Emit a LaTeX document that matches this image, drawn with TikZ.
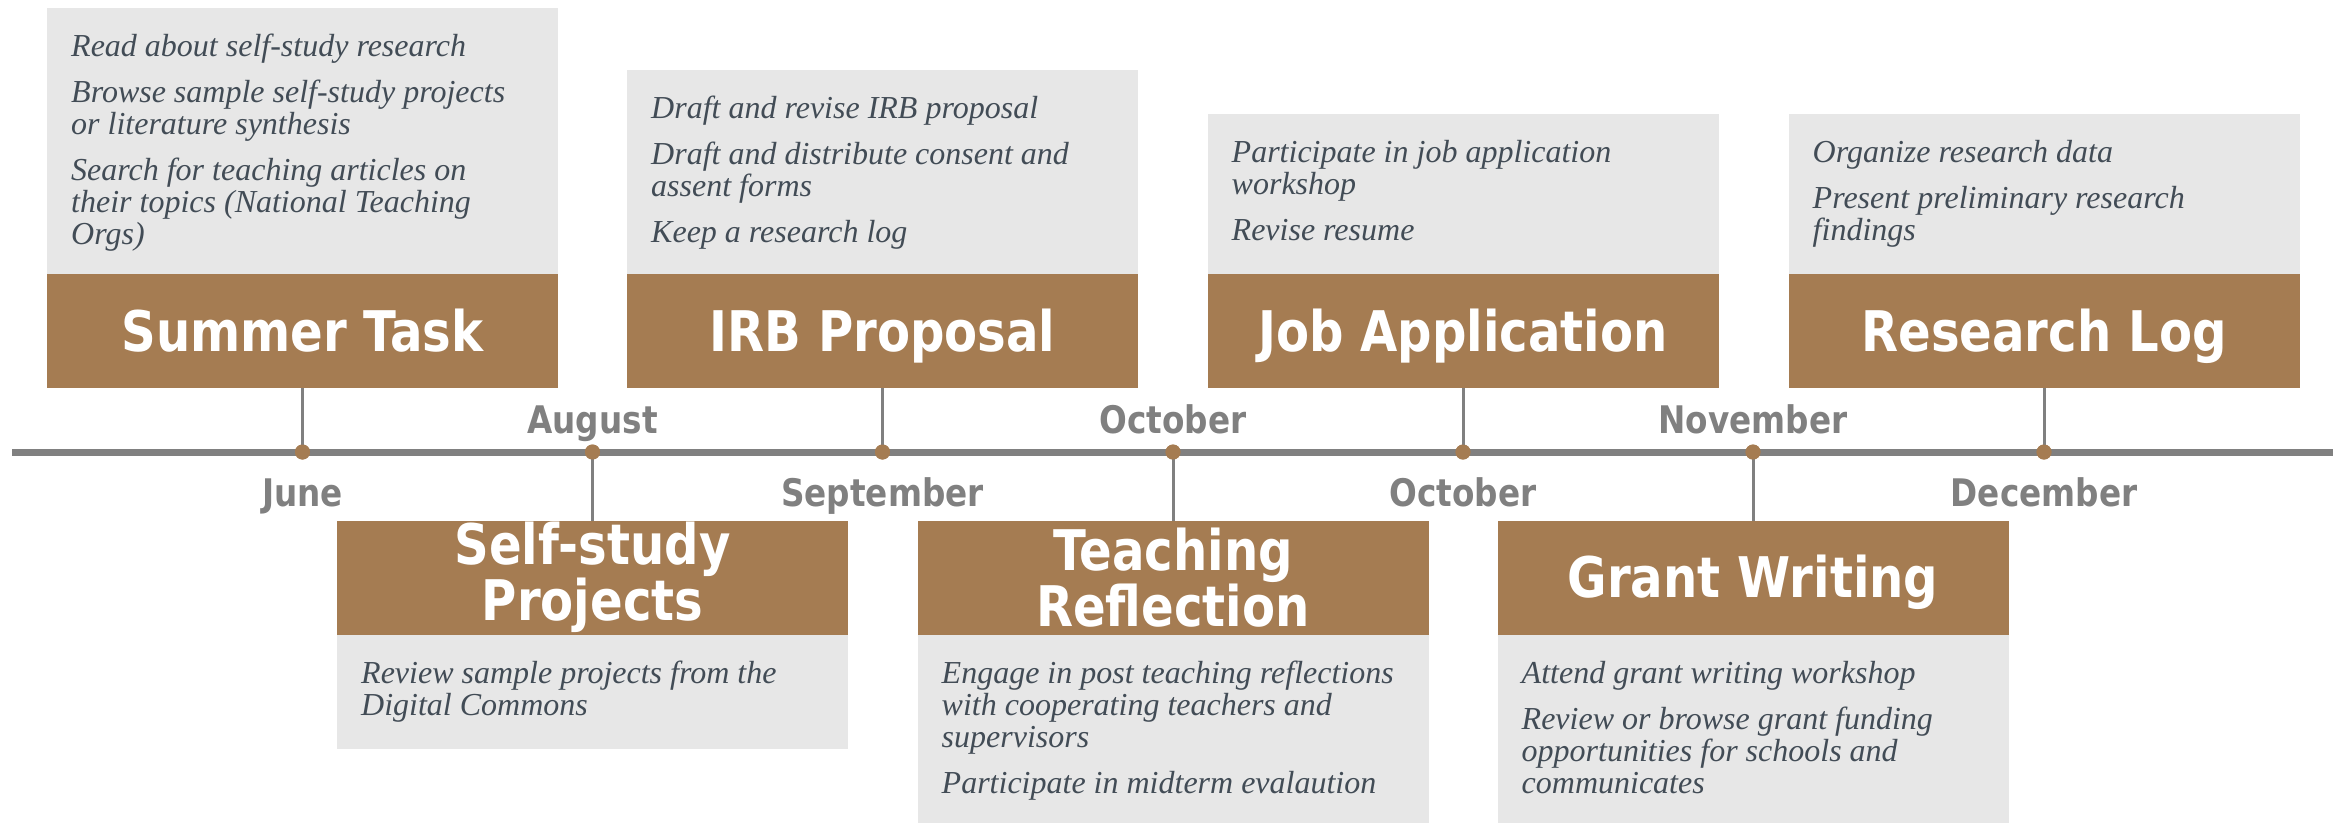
\documentclass[tikz,border=0pt]{standalone}
\usepackage{fontspec}
\newfontfamily\titlefont[FakeStretch=0.86]{DejaVu Sans}
\newfontfamily\bodyfont{Liberation Serif}
\definecolor{brownbox}{RGB}{165,124,82}
\definecolor{greybox}{RGB}{231,231,231}
\definecolor{monthgray}{RGB}{128,128,128}
\definecolor{bodytext}{RGB}{66,76,86}
\tikzset{
  brownrect/.style={fill=brownbox, draw=none, inner sep=0pt, outer sep=0pt, minimum width=511pt, minimum height=114pt,
    text=white, font=\titlefont\bfseries\fontsize{56}{52}\selectfont, align=center},
  onelinetitle/.style={text height=40pt, text depth=0pt},
  greyrect/.style={fill=greybox, draw=none, inner sep=0pt, outer sep=0pt, minimum width=511pt, anchor=north},
  itemtext/.style={font=\bodyfont\itshape\fontsize{32}{32}\selectfont, text=bodytext, inner sep=0pt, anchor=north west, align=left},
  monthtext/.style={font=\titlefont\bfseries\fontsize{38}{40}\selectfont, text=monthgray, inner sep=0pt, anchor=base},
  stemline/.style={draw=monthgray, line width=3pt},
  tlline/.style={draw=monthgray, line width=7pt},
  tldot/.style={circle, fill=brownbox, minimum size=15pt, inner sep=0pt}
}
\begin{document}
\begin{tikzpicture}[x=1pt, y=-1pt]
\useasboundingbox (0,0) rectangle (2348,823);
% grey boxes (top)
\node[greyrect, minimum height=266pt] (g1) at (302.5,8) {};
\node[greyrect, minimum height=204pt] (g3) at (882.5,70) {};
\node[greyrect, minimum height=160pt] (g5) at (1463,114) {};
\node[greyrect, minimum height=160pt] (g7) at (2044,114) {};
% grey boxes (bottom)
\node[greyrect, minimum height=114pt] (g2) at (592.5,635) {};
\node[greyrect, minimum height=188pt] (g4) at (1173,635) {};
\node[greyrect, minimum height=188pt] (g6) at (1753,635) {};
% brown title boxes
\node[brownrect, onelinetitle] (t1) at (302.5,331) {Summer Task};
\node[brownrect, onelinetitle] (t3) at (882.5,331) {IRB Proposal};
\node[brownrect, onelinetitle] (t5) at (1463,331) {Job Application};
\node[brownrect, onelinetitle] (t7) at (2044,331) {Research Log};
\node[brownrect] (t2) at (592.5,577.5) {Self-study\\Projects};
\node[brownrect] (t4) at (1173,577.5) {Teaching\\Reflection};
\node[brownrect, onelinetitle] (t6) at (1753,577.5) {Grant Writing};
% timeline
\coordinate (tlL) at (12,452);
\coordinate (tlR) at (2333,452);
\draw[tlline] (tlL) -- (tlR);
\node[tldot] (d1) at (302.5,452) {};
\node[tldot] (d2) at (592.5,452) {};
\node[tldot] (d3) at (882.5,452) {};
\node[tldot] (d4) at (1173,452) {};
\node[tldot] (d5) at (1463,452) {};
\node[tldot] (d6) at (1753,452) {};
\node[tldot] (d7) at (2044,452) {};
\draw[stemline] (t1.south) -- (d1.center);
\draw[stemline] (t3.south) -- (d3.center);
\draw[stemline] (t5.south) -- (d5.center);
\draw[stemline] (t7.south) -- (d7.center);
\draw[stemline] (t2.north) -- (d2.center);
\draw[stemline] (t4.north) -- (d4.center);
\draw[stemline] (t6.north) -- (d6.center);
\foreach \d in {d1,d2,d3,d4,d5,d6,d7} {\node[tldot] at (\d) {};}
% month labels
\node[monthtext] (m1) at (302.5,506) {June};
\node[monthtext] (m2) at (592.5,433) {August};
\node[monthtext] (m3) at (882.5,506) {September};
\node[monthtext] (m4) at (1173,433) {October};
\node[monthtext] (m5) at (1463,506) {October};
\node[monthtext] (m6) at (1753,433) {November};
\node[monthtext] (m7) at (2044,506) {December};
% item texts
\node[itemtext] (x1) at (71,34) {Read about self-study research\\[14pt]Browse sample self-study projects\\or literature synthesis\\[14pt]Search for teaching articles on\\their topics (National Teaching\\Orgs)};
\node[itemtext] (x3) at (651,96) {Draft and revise IRB proposal\\[14pt]Draft and distribute consent and\\assent forms\\[14pt]Keep a research log};
\node[itemtext] (x5) at (1231.5,140) {Participate in job application\\workshop\\[14pt]Revise resume};
\node[itemtext] (x7) at (1812.5,140) {Organize research data\\[14pt]Present preliminary research\\findings};
\node[itemtext] (x2) at (361,661) {Review sample projects from the\\Digital Commons};
\node[itemtext] (x4) at (941.5,661) {Engage in post teaching reflections\\with cooperating teachers and\\supervisors\\[14pt]Participate in midterm evalaution};
\node[itemtext] (x6) at (1521.5,661) {Attend grant writing workshop\\[14pt]Review or browse grant funding\\opportunities for schools and\\communicates};
\end{tikzpicture}
\end{document}
